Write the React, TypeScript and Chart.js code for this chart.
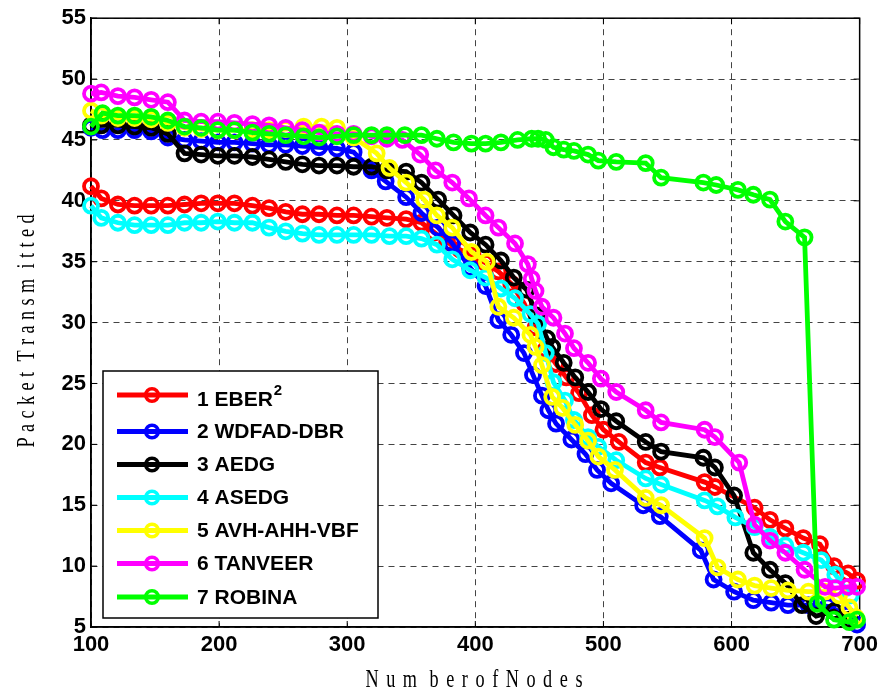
import React, { useEffect, useRef } from "react";
import { Chart, registerables } from "chart.js";

Chart.register(...registerables);

// ---------- data ----------
const X_TICKS = [100, 200, 300, 400, 500, 600, 700];
const Y_TICKS = [5, 10, 15, 20, 25, 30, 35, 40, 45, 50, 55];
const X_TITLE = "Num berofNodes";
const Y_TITLE = "Packet Transm itted";

const SERIES_LABELS = ["1 EBER²", "2 WDFAD-DBR", "3 AEDG", "4 ASEDG", "5 AVH-AHH-VBF", "6 TANVEER", "7 ROBINA"];
const SERIES_COLORS = ["#ff0000", "#0000ff", "#000000", "#00ffff", "#ffff00", "#ff00ff", "#00ff00"];

const eberX = [100, 108, 121, 134, 147, 160, 173, 186, 199, 212, 226, 239, 252, 265, 278, 292, 305, 319, 331, 346, 358, 368, 378, 388, 398, 408, 418, 428, 438, 447, 455, 463, 471, 481, 491, 500, 512, 533, 544, 579, 587, 618, 630, 642, 656, 669, 680, 691, 698];
const eberY = [41.2, 40.2, 39.7, 39.6, 39.6, 39.6, 39.7, 39.8, 39.8, 39.8, 39.6, 39.4, 39.1, 38.9, 38.9, 38.8, 38.8, 38.7, 38.6, 38.5, 38.2, 37.4, 36.6, 36.0, 35.5, 34.9, 34.2, 33.2, 31.6, 29.6, 27.8, 26.6, 25.5, 24.2, 22.4, 21.2, 20.2, 18.5, 18.1, 16.9, 16.5, 14.8, 13.8, 13.1, 12.3, 11.8, 10.0, 9.4, 8.8];

const wdfadX = [100, 109, 121, 134, 147, 160, 173, 186, 199, 212, 226, 239, 252, 265, 278, 292, 305, 319, 330, 346, 358, 371, 382, 396, 408, 418, 428, 438, 445, 452, 457, 463, 475, 486, 495, 506, 531, 544, 576, 586, 602, 617, 631, 644, 660, 675, 690, 698];
const wdfadY = [46.0, 45.8, 45.8, 45.8, 45.7, 45.2, 45.0, 44.9, 44.8, 44.8, 44.7, 44.6, 44.6, 44.5, 44.4, 44.3, 44.0, 42.5, 41.6, 40.3, 39.0, 37.8, 36.5, 34.5, 33.0, 30.2, 29.0, 27.5, 25.7, 24.0, 22.8, 21.7, 20.4, 19.2, 17.9, 16.8, 15.0, 14.1, 11.3, 8.9, 7.9, 7.2, 7.0, 6.8, 6.8, 6.7, 6.0, 5.2];

const aedgX = [100, 108, 121, 134, 147, 160, 173, 186, 199, 212, 226, 239, 252, 265, 278, 292, 305, 319, 331, 346, 358, 371, 383, 396, 408, 420, 430, 440, 448, 456, 460, 469, 478, 488, 498, 510, 533, 545, 578, 587, 602, 617, 630, 642, 655, 666, 680, 692];
const aedgY = [46.2, 46.2, 46.2, 46.1, 46.0, 45.5, 43.9, 43.8, 43.7, 43.7, 43.6, 43.4, 43.2, 43.0, 42.9, 42.9, 42.8, 42.8, 42.5, 42.4, 41.5, 40.1, 38.8, 37.4, 36.4, 35.1, 33.7, 32.7, 30.6, 28.7, 28.0, 26.7, 25.5, 24.3, 22.9, 21.9, 20.2, 19.4, 18.9, 18.1, 15.8, 11.1, 9.7, 8.6, 6.8, 5.9, 6.3, 5.6];

const asedgX = [100, 108, 121, 134, 147, 160, 173, 186, 199, 212, 226, 239, 252, 265, 278, 292, 305, 319, 333, 346, 358, 370, 382, 396, 408, 420, 431, 443, 449, 455, 461, 470, 477, 488, 496, 510, 533, 545, 579, 589, 603, 618, 630, 642, 656, 670, 681, 693];
const asedgY = [39.6, 38.6, 38.2, 38.0, 38.0, 38.0, 38.2, 38.2, 38.3, 38.2, 38.2, 37.8, 37.5, 37.3, 37.2, 37.2, 37.2, 37.2, 37.1, 37.1, 36.9, 36.4, 35.2, 34.3, 33.7, 32.8, 32.0, 30.7, 29.9, 27.5, 25.1, 23.6, 22.0, 20.6, 19.8, 18.7, 17.2, 16.7, 15.4, 14.9, 14.0, 13.2, 12.4, 11.7, 11.1, 10.5, 9.3, 7.6];

const avhX = [100, 108, 121, 134, 147, 160, 173, 186, 199, 212, 226, 239, 252, 266, 280, 292, 305, 323, 333, 346, 360, 370, 382, 397, 409, 418, 430, 443, 447, 452, 460, 468, 478, 488, 496, 509, 533, 545, 579, 589, 605, 618, 631, 644, 660, 673, 684, 692, 697];
const avhY = [47.4, 47.0, 46.8, 46.8, 46.7, 46.4, 46.0, 45.9, 45.8, 45.8, 45.8, 45.8, 45.9, 46.1, 46.1, 46.0, 45.2, 43.9, 42.7, 41.5, 40.1, 38.8, 37.8, 35.8, 35.0, 31.3, 30.4, 29.0, 28.0, 26.5, 23.9, 23.0, 21.6, 20.3, 19.0, 17.9, 15.6, 15.0, 12.3, 9.9, 8.9, 8.4, 8.2, 8.0, 7.9, 7.9, 7.6, 6.6, 5.8];

const tanveerX = [100, 108, 121, 134, 147, 160, 173, 186, 199, 212, 226, 239, 252, 265, 278, 292, 305, 319, 331, 343, 357, 369, 382, 395, 408, 418, 431, 441, 444, 447, 452, 461, 470, 477, 488, 498, 510, 533, 545, 579, 587, 606, 618, 630, 642, 657, 673, 681, 691, 698];
const tanveerY = [48.8, 48.9, 48.6, 48.5, 48.3, 48.1, 46.6, 46.5, 46.5, 46.4, 46.3, 46.2, 46.0, 45.8, 45.6, 45.5, 45.5, 45.3, 45.1, 45.0, 43.8, 42.5, 41.5, 40.2, 38.8, 37.8, 36.5, 34.8, 33.6, 32.6, 31.3, 30.4, 29.1, 27.9, 26.7, 25.4, 24.3, 22.8, 21.8, 21.2, 20.6, 18.5, 13.4, 12.1, 11.1, 9.7, 8.3, 8.2, 8.3, 8.3];

const robinaX = [100, 109, 121, 134, 147, 160, 173, 186, 199, 212, 226, 239, 252, 266, 278, 292, 305, 319, 331, 345, 358, 370, 383, 397, 408, 420, 433, 444, 449, 455, 461, 469, 477, 488, 496, 510, 533, 545, 578, 588, 605, 617, 630, 642, 657, 667, 680, 692, 698];
const robinaY = [46.1, 47.2, 47.0, 47.0, 46.9, 46.6, 46.1, 46.0, 45.8, 45.8, 45.6, 45.5, 45.4, 45.3, 45.2, 45.3, 45.4, 45.4, 45.4, 45.4, 45.4, 45.1, 44.8, 44.7, 44.7, 44.8, 45.0, 45.1, 45.1, 45.0, 44.4, 44.2, 44.1, 43.8, 43.3, 43.2, 43.1, 41.9, 41.5, 41.3, 40.9, 40.5, 40.1, 38.3, 37.0, 6.9, 5.6, 5.4, 5.6];

const SERIES_X = [eberX, wdfadX, aedgX, asedgX, avhX, tanveerX, robinaX];
const SERIES_Y = [eberY, wdfadY, aedgY, asedgY, avhY, tanveerY, robinaY];

// ---------- drawing helpers ----------
const TICK_FONT = { family: "'Liberation Sans', Arial, sans-serif", weight: "bold" as const, size: 22 };

// draws text with even letter spacing; a space only adds a small extra gap
function drawSpaced(ctx: CanvasRenderingContext2D, text: string, cx: number, cy: number, targetW: number, sx: number) {
  const chars = Array.from(text);
  const visible = chars.filter((c) => c !== " ");
  const spaces = chars.length - visible.length;
  const extra = 5;
  const raw = visible.reduce((a, ch) => a + ctx.measureText(ch).width * sx, 0);
  const gap = (targetW - raw - spaces * extra) / Math.max(1, visible.length - 1);
  let x = cx - targetW / 2;
  chars.forEach((ch) => {
    if (ch === " ") {
      x += extra;
      return;
    }
    const w = ctx.measureText(ch).width * sx;
    ctx.save();
    ctx.translate(x, cy);
    ctx.scale(sx, 1);
    ctx.fillText(ch, 0, 0);
    ctx.restore();
    x += w + gap;
  });
}

const decorPlugin = {
  id: "decor",
  beforeDatasetsDraw(chart: any) {
    const { ctx, chartArea: a, scales } = chart;
    ctx.save();
    ctx.setLineDash([]);
    ctx.strokeStyle = "#000";
    ctx.lineWidth = 1;
    const tl = 6;
    ctx.beginPath();
    X_TICKS.forEach((v) => {
      const px = scales.x.getPixelForValue(v);
      ctx.moveTo(px, a.bottom);
      ctx.lineTo(px, a.bottom - tl);
      ctx.moveTo(px, a.top);
      ctx.lineTo(px, a.top + tl);
    });
    Y_TICKS.forEach((v) => {
      const py = scales.y.getPixelForValue(v);
      ctx.moveTo(a.left, py);
      ctx.lineTo(a.left + tl, py);
      ctx.moveTo(a.right, py);
      ctx.lineTo(a.right - tl, py);
    });
    ctx.stroke();
    ctx.lineWidth = 1.5;
    ctx.strokeRect(a.left, a.top, a.right - a.left, a.bottom - a.top);
    ctx.restore();
  },
  afterDraw(chart: any) {
    const { ctx } = chart;
    ctx.save();
    ctx.fillStyle = "#000";
    ctx.textBaseline = "middle";
    ctx.textAlign = "left";
    ctx.font = "26px 'Liberation Serif', 'Times New Roman', serif";
    drawSpaced(ctx, X_TITLE, 474, 680, 217, 0.7);
    ctx.save();
    ctx.translate(27, 331);
    ctx.rotate(-Math.PI / 2);
    drawSpaced(ctx, Y_TITLE, 0, 0, 233, 0.7);
    ctx.restore();

    // legend
    const L = { left: 103, top: 371, right: 378, bottom: 618 };
    ctx.fillStyle = "#fff";
    ctx.fillRect(L.left, L.top, L.right - L.left, L.bottom - L.top);
    ctx.strokeStyle = "#000";
    ctx.lineWidth = 1.5;
    ctx.strokeRect(L.left, L.top, L.right - L.left, L.bottom - L.top);
    const rowsLine = [395, 431.5, 464.5, 497.5, 530.5, 563.5, 597];
    const rowsText = [399, 431.5, 464.5, 497.5, 530.5, 563.5, 597];
    chart.data.datasets.forEach((ds: any, i: number) => {
      const y = rowsLine[i];
      ctx.strokeStyle = ds.borderColor;
      ctx.lineWidth = 5;
      ctx.beginPath();
      ctx.moveTo(117, y);
      ctx.lineTo(188, y);
      ctx.stroke();
      ctx.lineWidth = 3.5;
      ctx.beginPath();
      ctx.arc(152, y, 6.3, 0, Math.PI * 2);
      ctx.stroke();
      ctx.fillStyle = "#000";
      ctx.font = "bold 21px 'Liberation Sans', Arial, sans-serif";
      const label: string = ds.label;
      if (label.endsWith("²")) {
        const base = label.slice(0, -1);
        ctx.fillText(base, 197, rowsText[i] + 1);
        const w = ctx.measureText(base).width;
        ctx.font = "bold 15px 'Liberation Sans', Arial, sans-serif";
        ctx.fillText("2", 197 + w + 1, rowsText[i] - 8);
      } else {
        ctx.fillText(label, 197, rowsText[i] + 1);
      }
    });
    ctx.restore();
  },
};

export default function App() {
  const ref = useRef<HTMLCanvasElement | null>(null);

  useEffect(() => {
    document.body.style.margin = "0";
    if (!ref.current) return;
    const datasets = SERIES_LABELS.map((label, i) => ({
      label,
      data: SERIES_X[i].map((x, j) => ({ x, y: SERIES_Y[i][j] })),
      borderColor: SERIES_COLORS[i],
      backgroundColor: SERIES_COLORS[i],
      pointBackgroundColor: "rgba(0,0,0,0)",
      pointBorderColor: SERIES_COLORS[i],
      pointRadius: 7,
      pointBorderWidth: 3.8,
      borderWidth: 4.8,
      tension: 0,
      fill: false,
      clip: false,
      order: SERIES_LABELS.length - i,
    }));

    const chart = new Chart(ref.current, {
      type: "line",
      data: { datasets },
      options: {
        animation: false,
        responsive: true,
        maintainAspectRatio: false,
        layout: { padding: { top: 18, right: 21, left: 0, bottom: 0 } },
        plugins: {
          legend: { display: false },
          tooltip: { enabled: false },
          title: { display: false },
        },
        scales: {
          x: {
            type: "linear",
            min: 100,
            max: 700,
            afterFit: (s: any) => {
              s.height = 62;
            },
            afterBuildTicks: (s: any) => {
              s.ticks = X_TICKS.map((v) => ({ value: v }));
            },
            ticks: { color: "#000", font: TICK_FONT, padding: 5, maxRotation: 0 },
            grid: { color: "#444", lineWidth: 1, drawTicks: false },
            border: { display: true, color: "#000", width: 1.5, dash: [6, 5] },
          },
          y: {
            type: "linear",
            min: 5,
            max: 55,
            afterFit: (s: any) => {
              s.width = 91;
            },
            afterBuildTicks: (s: any) => {
              s.ticks = Y_TICKS.map((v) => ({ value: v }));
            },
            ticks: { color: "#000", font: TICK_FONT, padding: 5 },
            grid: { color: "#444", lineWidth: 1, drawTicks: false },
            border: { display: true, color: "#000", width: 1.5, dash: [6, 5] },
          },
        },
      },
      plugins: [decorPlugin],
    } as any);

    return () => chart.destroy();
  }, []);

  return (
    <div style={{ width: 883, height: 689, position: "relative" }}>
      <canvas ref={ref} style={{ display: "block" }} />
    </div>
  );
}
